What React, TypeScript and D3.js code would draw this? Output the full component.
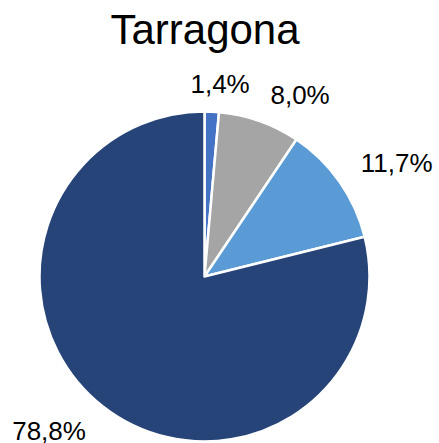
import React, { useEffect, useRef } from "react";
import * as d3 from "d3";

const categories = ["A", "B", "C", "D"];
const values = [1.4, 8.0, 11.7, 78.8];
const labels = ["1,4%", "8,0%", "11,7%", "78,8%"];
const colors = ["#4472C4", "#A5A5A5", "#5B9BD5", "#264478"];
const title = "Tarragona";

const W = 439;
const H = 443;

export default function App() {
  const ref = useRef<SVGSVGElement | null>(null);

  useEffect(() => {
    const svg = d3.select(ref.current);
    svg.selectAll("*").remove();
    const cx = 204.5;
    const cy = 276.5;
    const R = 165;
    const font = "'Liberation Sans', Arial, sans-serif";

    svg
      .append("text")
      .attr("x", 205)
      .attr("y", 44)
      .attr("text-anchor", "middle")
      .attr("font-family", font)
      .attr("font-size", 42)
      .attr("fill", "#000")
      .text(title);

    const pie = d3.pie<number>().sort(null).value((d) => d);
    const arcs = pie(values);
    const arc = d3.arc<d3.PieArcDatum<number>>().innerRadius(0).outerRadius(R);

    const g = svg.append("g").attr("transform", `translate(${cx},${cy})`);
    g.selectAll("path")
      .data(arcs)
      .enter()
      .append("path")
      .attr("d", arc as any)
      .attr("fill", (_d, i) => colors[i])
      .attr("stroke", "#fff")
      .attr("stroke-width", 2.5)
      .attr("stroke-linejoin", "round");

    const capH = 19;
    const lr = R + 21;
    arcs.forEach((a, i) => {
      const mid = (a.startAngle + a.endAngle) / 2;
      const s = Math.sin(mid);
      const c = Math.cos(mid);
      const px = cx + lr * s;
      const py = cy - lr * c;
      const t = svg
        .append("text")
        .attr("font-family", font)
        .attr("font-size", 26)
        .attr("fill", "#000")
        .attr("text-anchor", "middle")
        .text(labels[i]);
      const w = (t.node() as SVGTextElement).getComputedTextLength();
      const fx = Math.max(-1, Math.min(1, 5 * s));
      const fy = Math.max(-1, Math.min(1, 5 * c));
      const bx = px + (fx * w) / 2 + fx * 4;
      const byCenter = py - (fy * capH) / 2 + fy * 2.5;
      t.attr("x", bx).attr("y", byCenter + capH / 2);
    });
  }, []);

  return (
    <svg
      ref={ref}
      width={W}
      height={H}
      style={{ position: "absolute", left: 0, top: 0, background: "#fff" }}
      data-categories={categories.join(",")}
    />
  );
}
